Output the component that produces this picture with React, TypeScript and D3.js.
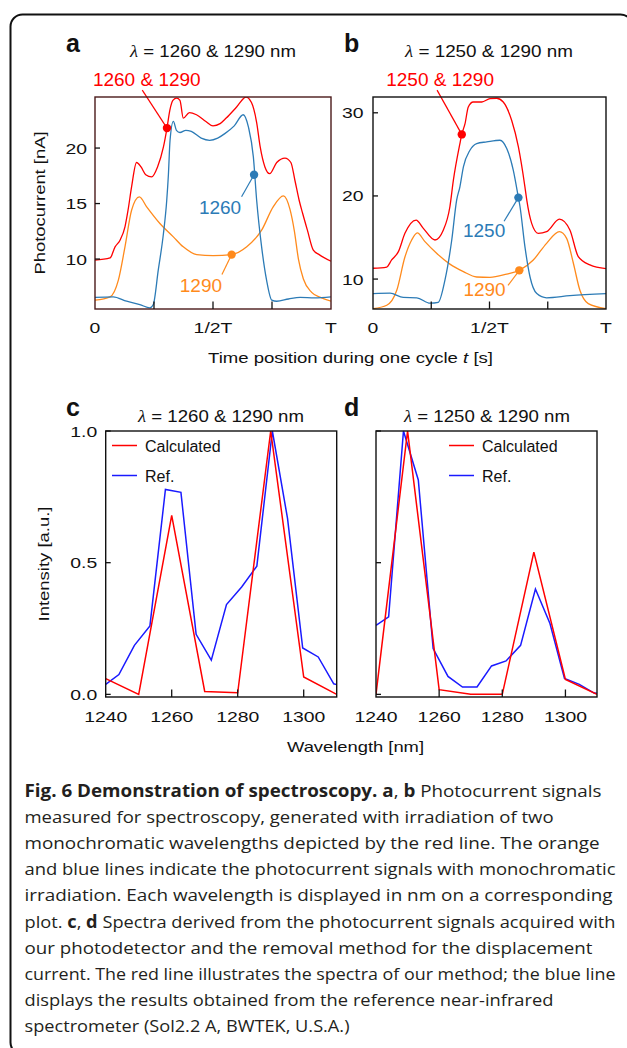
import React from 'react';
import * as d3 from 'd3';

// ---------- DATA ----------
// Panel a: time position (fraction of T) vs photocurrent [nA]
const aRed: [number, number][] = [
  [0, 9.9], [0.064, 10.1], [0.085, 11.1], [0.106, 11.7], [0.127, 12.9], [0.14, 14.4], [0.155, 16.5],
  [0.176, 18.7], [0.195, 18.3], [0.215, 17.6], [0.24, 17.4], [0.265, 18.3], [0.29, 20.1], [0.305, 21.8],
  [0.317, 23.4], [0.33, 24.3], [0.346, 24.5], [0.36, 24.3], [0.374, 22.7], [0.4, 23.2], [0.43, 23.0],
  [0.47, 22.4], [0.5, 22.0], [0.53, 22.2], [0.556, 22.7], [0.6, 23.7], [0.64, 24.6], [0.663, 24.1],
  [0.685, 22.3], [0.7, 20.1], [0.72, 18.3], [0.74, 17.7], [0.77, 18.7], [0.805, 19.1], [0.83, 18.7],
  [0.847, 17.1], [0.865, 15.3], [0.88, 14.1], [0.9, 12.6], [0.925, 10.8], [0.95, 10.4], [1.0, 9.8],
];
const aBlue: [number, number][] = [
  [0, 6.55], [0.077, 6.6], [0.134, 6.2], [0.19, 5.9], [0.233, 5.6], [0.247, 5.9], [0.268, 9.0],
  [0.29, 12.3], [0.304, 15.3], [0.311, 17.6], [0.318, 20.7], [0.332, 22.4], [0.345, 21.6], [0.36, 21.4],
  [0.385, 21.6], [0.408, 21.5], [0.45, 20.9], [0.486, 20.7], [0.52, 20.9], [0.55, 21.3], [0.59, 22.0],
  [0.628, 23.0], [0.65, 21.9], [0.671, 19.2], [0.685, 15.3], [0.706, 11.1], [0.727, 8.1], [0.749, 6.3],
  [0.77, 6.2], [0.82, 6.4], [0.869, 6.55], [0.93, 6.5], [1.0, 6.6],
];
const aOrange: [number, number][] = [
  [0, 6.3], [0.064, 6.6], [0.099, 8.1], [0.127, 11.1], [0.155, 14.4], [0.188, 15.6], [0.219, 14.7],
  [0.275, 13.2], [0.332, 12.0], [0.374, 11.1], [0.431, 10.4], [0.501, 10.3], [0.579, 10.4], [0.643, 11.1],
  [0.706, 12.6], [0.755, 14.7], [0.798, 15.7], [0.826, 14.5], [0.845, 12.5], [0.862, 10.0], [0.883, 8.2],
  [0.918, 7.0], [0.96, 6.5], [1.0, 6.2],
];
const aMarkRed: [number, number] = [0.305, 21.8];
const aMarkBlue: [number, number] = [0.674, 17.6];
const aMarkOrange: [number, number] = [0.579, 10.4];

// Panel b
const bRed: [number, number][] = [
  [0, 11.3], [0.059, 11.45], [0.08, 12.3], [0.109, 13.3], [0.137, 15.5], [0.185, 17.1], [0.216, 16.1],
  [0.266, 14.7], [0.302, 15.9], [0.33, 18.7], [0.345, 21.9], [0.373, 26.3], [0.381, 27.4], [0.395, 28.7],
  [0.409, 30.7], [0.43, 31.3], [0.467, 31.3], [0.502, 31.7], [0.531, 31.75], [0.559, 31.3], [0.595, 29.1],
  [0.624, 25.9], [0.652, 21.1], [0.66, 19.5], [0.681, 16.7], [0.709, 15.5], [0.745, 15.7], [0.8, 17.2],
  [0.845, 15.9], [0.881, 12.7], [0.931, 11.7], [1.0, 11.25],
];
const bBlue: [number, number][] = [
  [0, 8.25], [0.073, 8.3], [0.13, 7.8], [0.188, 7.75], [0.245, 7.1], [0.28, 7.2], [0.309, 9.9],
  [0.338, 14.7], [0.359, 19.5], [0.373, 21.1], [0.388, 23.5], [0.416, 25.5], [0.445, 26.3], [0.488, 26.5],
  [0.545, 26.7], [0.574, 25.7], [0.602, 23.1], [0.624, 19.8], [0.631, 18.7], [0.652, 13.9], [0.674, 10.25],
  [0.703, 8.25], [0.745, 7.75], [0.845, 8.0], [1.0, 8.25],
];
const bOrange: [number, number][] = [
  [0, 6.45], [0.059, 6.85], [0.102, 8.65], [0.137, 12.65], [0.166, 14.7], [0.19, 15.55], [0.223, 14.5],
  [0.273, 13.1], [0.33, 11.8], [0.388, 10.9], [0.445, 10.25], [0.502, 10.2], [0.574, 10.6], [0.628, 11.05],
  [0.688, 12.3], [0.745, 14.3], [0.8, 15.7], [0.831, 14.9], [0.86, 11.9], [0.888, 8.65], [0.924, 7.05],
  [1.0, 6.45],
];
const bMarkRed: [number, number] = [0.381, 27.4];
const bMarkBlue: [number, number] = [0.624, 19.8];
const bMarkOrange: [number, number] = [0.628, 11.05];

const timeTicks = [0, 0.25, 0.5, 0.75, 1];
const timeTickLabels = ['0', '', '1/2T', '', 'T'];
const aYTicks = [10, 15, 20];
const bYTicks = [10, 20, 30];

// Panels c, d: wavelength [nm] vs intensity [a.u.]
const calcWl = [1240, 1250, 1260, 1270, 1280, 1290, 1300, 1310];
const cCalc = [0.06, 0.0, 0.68, 0.011, 0.006, 1.0, 0.066, 0.0];
const dCalc = [0.0, 1.0, 0.018, 0.0, 0.0, 0.54, 0.057, 0.0];
const refWl = [1240, 1244, 1248.7, 1253.4, 1258.1, 1262.8, 1267.4, 1272, 1276.6, 1281.2, 1285.8, 1290.5, 1295.1, 1299.7, 1304.4, 1309.1, 1310];
const cRef = [0.038, 0.075, 0.186, 0.26, 0.778, 0.767, 0.228, 0.13, 0.341, 0.408, 0.487, 1.0, 0.668, 0.176, 0.142, 0.04, 0.037];
const dRef = [0.262, 0.294, 1.0, 0.814, 0.174, 0.068, 0.028, 0.028, 0.108, 0.127, 0.186, 0.4, 0.269, 0.06, 0.038, 0.005, 0.004];
const wlTicks = [1240, 1260, 1280, 1300];
const intTicks = [0.0, 0.5, 1.0];

// ---------- STYLE ----------
const FONT = "'Liberation Sans', Arial, Helvetica, sans-serif";
const RED = '#ff0000';
const BLUE = '#2c7bb6';
const ORANGE = '#ff8a1c';
const SPEC_RED = '#ff0000';
const SPEC_BLUE = '#1a1aff';

type TxtProps = {
  x: number; y: number; children: React.ReactNode; size?: number; sx?: number; anchor?: string;
  fill?: string; rotate?: number; weight?: string | number; len?: number; family?: string;
};
function Txt({ x, y, children, size = 15, sx = 1, anchor = 'start', fill = '#111', rotate = 0, weight = 'normal', len, family = FONT }: TxtProps) {
  const t = `translate(${x},${y})` + (rotate ? ` rotate(${rotate})` : '') + (sx !== 1 ? ` scale(${sx},1)` : '');
  return (
    <text transform={t} fontSize={size} textAnchor={anchor as any} fill={fill} fontFamily={family}
      fontWeight={weight as any} textLength={len} lengthAdjust={len ? 'spacingAndGlyphs' : undefined}>
      {children}
    </text>
  );
}

const TICK_SIZE = 15.5;
const TICK_SX = 1.25;

type Note = { p: [number, number]; color: string; end: [number, number]; label: string; lab: [number, number] };

function TimePanel(props: {
  id: string; x0: number; x1: number; y0: number; y1: number; domain: [number, number];
  yTicks: number[]; frame: string; series: { data: [number, number][]; color: string }[]; notes: Note[];
  labelGap: number;
}) {
  const { id, x0, x1, y0, y1, domain, yTicks, frame, series, notes, labelGap } = props;
  const x = d3.scaleLinear().domain([0, 1]).range([x0, x1]);
  const y = d3.scaleLinear().domain(domain).range([y1, y0]);
  const line = d3.line<[number, number]>().x(d => x(d[0])).y(d => y(d[1])).curve(d3.curveMonotoneX);
  return (
    <g>
      <defs>
        <clipPath id={id}><rect x={x0} y={y0} width={x1 - x0} height={y1 - y0} /></clipPath>
      </defs>
      <g clipPath={`url(#${id})`}>
        {series.map((s, i) => (
          <path key={i} d={line(s.data) || ''} fill="none" stroke={s.color} strokeWidth={1.3} strokeLinejoin="round" />
        ))}
      </g>
      {notes.map((n, i) => {
        const mx = x(n.p[0]), my = y(n.p[1]);
        return (
          <g key={i}>
            <line x1={mx} y1={my} x2={mx + n.end[0]} y2={my + n.end[1]} stroke={n.color} strokeWidth={1.2} />
            <circle cx={mx} cy={my} r={4.2} fill={n.color} />
            <Txt x={mx + n.lab[0]} y={my + n.lab[1]} size={19} anchor="middle" fill={n.color}>{n.label}</Txt>
          </g>
        );
      })}
      <rect x={x0} y={y0} width={x1 - x0} height={y1 - y0} fill="none" stroke={frame} strokeWidth={1.4} />
      {timeTicks.map((t, i) => (
        <g key={'xt' + i}>
          {t > 0 && t < 1 && <line x1={x(t)} x2={x(t)} y1={y1} y2={y1 - 7.5} stroke="#111" strokeWidth={1.3} />}
          {timeTickLabels[i] && (
            <Txt x={x(t)} y={y1 + 24} size={TICK_SIZE} sx={TICK_SX} anchor="middle">{timeTickLabels[i]}</Txt>
          )}
        </g>
      ))}
      {yTicks.map((v, i) => (
        <g key={'yt' + i}>
          <line x1={x0} x2={x0 + 5} y1={y(v)} y2={y(v)} stroke="#111" strokeWidth={1.3} />
          <Txt x={x0 - labelGap} y={y(v) + 5.5} size={TICK_SIZE} sx={TICK_SX} anchor="end">{String(v)}</Txt>
        </g>
      ))}
    </g>
  );
}

function SpecPanel(props: {
  id: string; x0: number; x1: number; y0: number; y1: number; calc: number[]; ref: number[];
  showYLabels: boolean; legendX: number;
}) {
  const { id, x0, x1, y0, y1, calc, ref, showYLabels, legendX } = props;
  const x = d3.scaleLinear().domain([1240, 1310]).range([x0, x1]);
  const y = d3.scaleLinear().domain([-0.01, 1.0]).range([y1, y0]);
  const line = d3.line<number>().y(d => y(d));
  const calcPath = d3.line<[number, number]>().x(d => x(d[0])).y(d => y(d[1]))(calcWl.map((w, i) => [w, calc[i]]));
  const refPath = d3.line<[number, number]>().x(d => x(d[0])).y(d => y(d[1]))(refWl.map((w, i) => [w, ref[i]]));
  void line;
  return (
    <g>
      <defs>
        <clipPath id={id}><rect x={x0} y={y0 - 1} width={x1 - x0} height={y1 - y0 + 1} /></clipPath>
      </defs>
      <g clipPath={`url(#${id})`}>
        <path d={refPath || ''} fill="none" stroke={SPEC_BLUE} strokeWidth={1.5} strokeLinejoin="miter" />
        <path d={calcPath || ''} fill="none" stroke={SPEC_RED} strokeWidth={1.5} strokeLinejoin="miter" />
      </g>
      <rect x={x0} y={y0} width={x1 - x0} height={y1 - y0} fill="none" stroke="#111" strokeWidth={1.4} />
      {wlTicks.map((w, i) => (
        <g key={'xt' + i}>
          {w > 1240 && <line x1={x(w)} x2={x(w)} y1={y1} y2={y1 - 7.5} stroke="#111" strokeWidth={1.3} />}
          <Txt x={x(w)} y={y1 + 25} size={TICK_SIZE} sx={TICK_SX} anchor="middle">{String(w)}</Txt>
        </g>
      ))}
      {intTicks.map((v, i) => (
        <g key={'yt' + i}>
          <line x1={x0} x2={x0 + 5} y1={y(v)} y2={y(v)} stroke="#111" strokeWidth={1.3} />
          {showYLabels && (
            <Txt x={x0 - 8.5} y={y(v) + 5.5} size={TICK_SIZE} sx={TICK_SX} anchor="end">{v.toFixed(1)}</Txt>
          )}
        </g>
      ))}
      <line x1={legendX} x2={legendX + 25} y1={y0 + 14.5} y2={y0 + 14.5} stroke={SPEC_RED} strokeWidth={1.5} />
      <Txt x={legendX + 33} y={y0 + 21} size={16}>Calculated</Txt>
      <line x1={legendX} x2={legendX + 25} y1={y0 + 44.5} y2={y0 + 44.5} stroke={SPEC_BLUE} strokeWidth={1.5} />
      <Txt x={legendX + 33} y={y0 + 51} size={16}>Ref.</Txt>
    </g>
  );
}

function Title({ cx, y, text, len }: { cx: number; y: number; text: string; len: number }) {
  return (
    <text x={cx} y={y} fontSize={17} textAnchor="middle" fontFamily={FONT} fill="#111" textLength={len} lengthAdjust="spacingAndGlyphs">
      <tspan fontFamily="'Liberation Serif', 'DejaVu Serif', serif" fontStyle="italic">λ</tspan>
      {' = ' + text}
    </text>
  );
}

type Seg = { t: string; b?: boolean };
const captionLines: Seg[][] = [
  [{ t: 'Fig. 6 Demonstration of spectroscopy.', b: true }, { t: ' ' }, { t: 'a', b: true }, { t: ', ' }, { t: 'b', b: true }, { t: ' Photocurrent signals' }],
  [{ t: 'measured for spectroscopy, generated with irradiation of two' }],
  [{ t: 'monochromatic wavelengths depicted by the red line. The orange' }],
  [{ t: 'and blue lines indicate the photocurrent signals with monochromatic' }],
  [{ t: 'irradiation. Each wavelength is displayed in nm on a corresponding' }],
  [{ t: 'plot. ' }, { t: 'c', b: true }, { t: ', ' }, { t: 'd', b: true }, { t: ' Spectra derived from the photocurrent signals acquired with' }],
  [{ t: 'our photodetector and the removal method for the displacement' }],
  [{ t: 'current. The red line illustrates the spectra of our method; the blue line' }],
  [{ t: 'displays the results obtained from the reference near-infrared' }],
  [{ t: 'spectrometer (Sol2.2 A, BWTEK, U.S.A.)' }],
];
const captionEnds = [602, 554, 600, 616, 613, 616, 593, 616, 554, 350];

export default function App() {
  return (
    <svg width={627} height={1048} viewBox="0 0 627 1048"
      style={{ position: 'absolute', left: 0, top: 0, background: '#fff' }}>
      <rect x={0} y={0} width={627} height={1048} fill="#fff" />
      <rect x={10.5} y={14.5} width={622} height={1040} rx={12} fill="none" stroke="#111" strokeWidth={2} />

      {/* Panel letters and titles */}
      <Txt x={66} y={52} size={25} weight="bold">a</Txt>
      <Txt x={344} y={52} size={25} weight="bold">b</Txt>
      <Txt x={66} y={416} size={25} weight="bold">c</Txt>
      <Txt x={344} y={416} size={25} weight="bold">d</Txt>
      <Title cx={213} y={57} text="1260 & 1290 nm" len={166} />
      <Title cx={489} y={57} text="1250 & 1290 nm" len={168} />
      <Title cx={221} y={422} text="1260 & 1290 nm" len={166} />
      <Title cx={487} y={422} text="1250 & 1290 nm" len={166} />

      <TimePanel id="clipA" x0={95} x1={331} y0={97} y1={309} domain={[5.5, 24.6]} yTicks={aYTicks}
        frame="#4a1a1a" labelGap={8}
        series={[{ data: aOrange, color: ORANGE }, { data: aBlue, color: BLUE }, { data: aRed, color: RED }]}
        notes={[
          { p: aMarkRed, color: RED, end: [-24.7, -38], label: '1260 & 1290', lab: [-20.2, -42] },
          { p: aMarkBlue, color: BLUE, end: [-12.5, 22], label: '1260', lab: [-34, 39] },
          { p: aMarkOrange, color: ORANGE, end: [-9.7, 20], label: '1290', lab: [-30.7, 37] },
        ]} />
      <TimePanel id="clipB" x0={373} x1={606} y0={97} y1={309} domain={[6.4, 31.9]} yTicks={bYTicks}
        frame="#111" labelGap={9.5}
        series={[{ data: bOrange, color: ORANGE }, { data: bBlue, color: BLUE }, { data: bRed, color: RED }]}
        notes={[
          { p: bMarkRed, color: RED, end: [-24.7, -44.3], label: '1250 & 1290', lab: [-21.7, -48.3] },
          { p: bMarkBlue, color: BLUE, end: [-14.3, 23.7], label: '1250', lab: [-34.3, 39.7] },
          { p: bMarkOrange, color: ORANGE, end: [-11.3, 15], label: '1290', lab: [-34.8, 26] },
        ]} />

      <Txt x={45} y={203} size={15} rotate={-90} anchor="middle" len={143}>Photocurrent [nA]</Txt>
      <text x={350.5} y={362.5} fontSize={15} textAnchor="middle" fontFamily={FONT} fill="#111" textLength={285} lengthAdjust="spacingAndGlyphs">
        Time position during one cycle <tspan fontStyle="italic">t</tspan> [s]
      </text>

      <SpecPanel id="clipC" x0={105.7} x1={336.7} y0={431} y1={697} calc={cCalc} ref={cRef} showYLabels={true} legendX={112} />
      <SpecPanel id="clipD" x0={376} x1={597} y0={431} y1={697} calc={dCalc} ref={dRef} showYLabels={false} legendX={449} />

      <Txt x={49} y={564} size={15} rotate={-90} anchor="middle" len={115}>Intensity [a.u.]</Txt>
      <Txt x={355.5} y={752} size={15} anchor="middle" len={137}>Wavelength [nm]</Txt>

      {/* Caption */}
      {captionLines.map((segs, i) => (
        <text key={i} x={24.5} y={797 + 26.1 * i} fontSize={17} fontFamily="'Open Sans', 'Noto Sans', sans-serif"
          fill="#231f20" textLength={captionEnds[i] - 25} lengthAdjust="spacingAndGlyphs">
          {segs.map((s, j) => (
            <tspan key={j} fontWeight={s.b ? 'bold' : 'normal'}>{s.t}</tspan>
          ))}
        </text>
      ))}
    </svg>
  );
}
